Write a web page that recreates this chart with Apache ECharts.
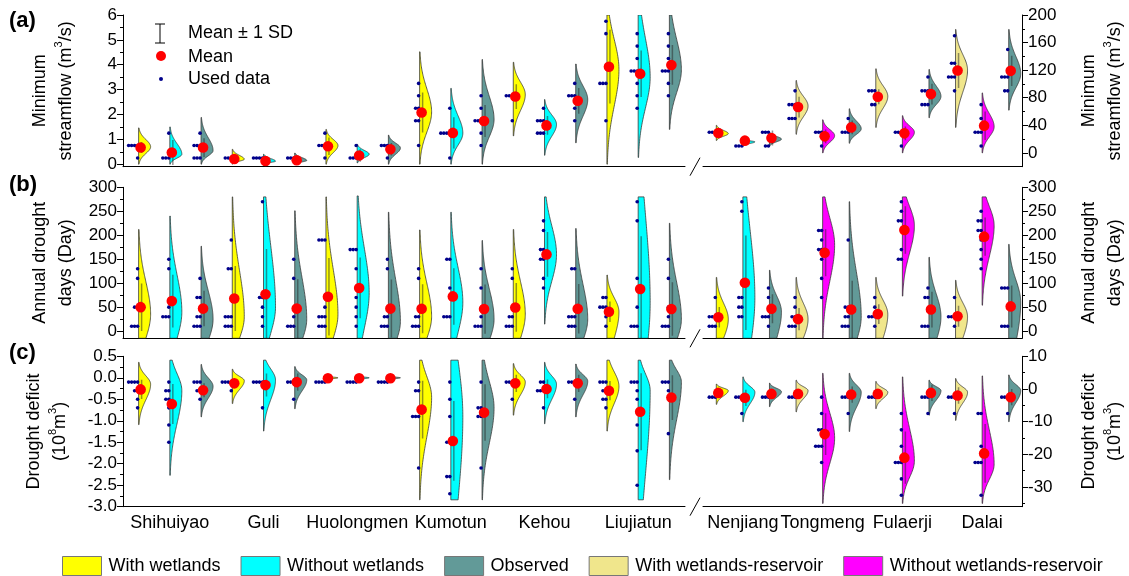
<!DOCTYPE html>
<html>
<head>
<meta charset="utf-8">
<title>Violin plots - streamflow, drought days, drought deficit</title>
<script src="https://cdn.jsdelivr.net/npm/echarts@6/dist/echarts.min.js"></script>
<style>
  html, body { margin: 0; padding: 0; background: #fff; }
  #main { width: 1129px; height: 576px; }
</style>
</head>
<body>
<div id="main"></div>
<script>
var FONT = 'Liberation Sans, Arial, sans-serif';

var stationsL = ['Shihuiyao', 'Guli', 'Huolongmen', 'Kumotun', 'Kehou', 'Liujiatun'];
var stationsR = ['Nenjiang', 'Tongmeng', 'Fulaerji', 'Dalai'];
var seriesNames = ['With wetlands', 'Without wetlands', 'Observed', 'With wetlands-reservoir', 'Without wetlands-reservoir'];
var seriesColors = ['#ffff00', '#00ffff', '#629a98', '#f0e68c', '#ff00ff'];
// which series each violin belongs to
var kindL = [0,1,2, 0,1,2, 0,1,2, 0,1,2, 0,1,2, 0,1,2];
var kindR = [0,1,2, 3,4,2, 3,4,2, 3,4,2];

// violin shape: [low end, peak, high end, tail low, tail high]
// (a) minimum streamflow
var aMeanL = [0.67,0.47,0.67, 0.21,0.13,0.16, 0.72,0.35,0.6, 2.08,1.26,1.74, 2.72,1.56,2.55, 3.92,3.64,3.99];
var aPtsL = [
  [0.75,0.75,0.75,0.75,0.25], [1.25,0.25,0.25,0.25], [1.25,0.75,0.75,0.75,0.25,0.25,0.25],
  [0.25,0.25,0.25], [0.25,0.25,0.25,0.25], [0.25,0.25,0.25],
  [1.25,0.75,0.75,0.75,0.25], [0.75,0.25,0.25,0.25], [0.75,0.75,0.75,0.25],
  [3.25,2.75,2.25,2.25,1.75,1.75,0.75], [2.25,1.25,1.25,1.25,1.25,0.25], [2.75,2.25,1.75,1.75,1.75,1.25,0.75],
  [2.75,2.75,2.75,1.75], [2.25,1.75,1.75,1.75,1.25,1.25,1.25], [3.25,2.75,2.75,2.75,2.25,1.75],
  [5.75,5.25,3.25,3.25,3.25,1.75], [5.25,4.75,4.25,3.75,3.75,3.75,3.25,2.75,2.25], [5.25,4.75,4.25,3.75,3.75,3.75,3.25,2.75]
];
var aShapeL = [
  [0,0.7,1.46], [0,0.4,1.5], [0,0.55,1.88],
  [0,0.2,0.6], [0,0.12,0.4], [0,0.15,0.45],
  [0,0.75,1.4], [0.05,0.4,0.8], [0,0.65,1.17],
  [0,2.1,4.52], [0,1.25,3.05], [0,1.8,4.21],
  [1.14,2.8,4.1], [0.36,1.6,2.6], [0.86,2.6,4.03],
  [0,3.8,6,2.6,1.8], [0.27,3.5,6,2.6,1.6], [1.4,3.8,6,2.6,1.8]
];
var aMeanR = [28.9,17.8,21.7, 66.5,24,37, 81.4,28.4,85.3, 119.5,39.5,119];
var aPtsR = [
  [30,30,30], [10,10,10], [30,30,30,10,10],
  [90,70,70,70,50,50,50], [30,30,30,10], [50,30,30,30],
  [90,90,90,70,70], [30,30,30,10], [110,90,90,90,70,70,70],
  [170,130,130,110,110,110,90], [70,50,30,30,30,10], [150,110,110,110,90,90]
];
var aShapeR = [
  [18,28,40], [10,16,20], [10,20,30],
  [27,68,105], [0,25,48], [14,35,64],
  [37,82,122], [0,30,54], [51,82,121],
  [37,120,179], [0,38,87], [62,115,179]
];

// (b) annual drought days
var bMeanL = [50,62.6,47, 68,77,47, 71.7,90,47, 46.6,72.4,46, 49.4,160,46.6, 40.4,87.7,46];
var bPtsL = [
  [130,110,50,50,10,10,10], [150,130,50,30,30,30], [110,70,70,30,30,10,10,10],
  [190,130,130,30,30,30,10,10,10], [270,70,70,50,30,10], [150,110,30,10,10,10],
  [190,190,190,50,30,30,30,10,10,10], [170,170,170,130,90,70,50,30,10], [150,130,30,30,10,10,10],
  [130,110,30,30,10,10,10], [150,150,90,30,30,30], [130,90,30,10,10,10],
  [130,110,30,30,10,10,10], [230,210,170,170,150,150,110,90], [130,130,30,30,30,10,10,10],
  [70,70,50,50,50,30,10], [270,230,110,50,10,10,10], [150,110,50,30,10,10,10]
];
var bShapeL = [
  [-15,35,212,1.0,2.6], [-15,40,240,1.0,2.6], [-15,25,177,0.9,2.6],
  [-15,30,280,1.0,2.6], [-15,50,280,1.2,1.8], [-15,25,251,0.9,2.6],
  [-15,35,280,1.0,2.6], [-15,80,282,1.3,2.2], [-15,20,248,0.8,2.6],
  [-15,30,211,1.0,2.6], [-15,60,248,1.2,2.6], [-15,25,189,0.9,2.6],
  [-15,35,212,1.0,2.6], [14.6,160,280,2.6,2.0], [-15,25,214,0.9,2.6],
  [-15,40,117,1.0,2.6], [-15,60,280,0.6,1.2], [-15,25,225,0.9,2.6]
];
var bMeanR = [29,101,46.6, 25,163.6,45, 35.5,211,45, 31,197,51.5];
var bPtsR = [
  [70,30,30,30,10,10,10], [270,250,70,70,50,50,30,30], [90,70,30,30,30,10],
  [70,50,30,30,10,10,10], [210,210,190,170,170,150,110,70], [190,50,50,30,30,10,10,10],
  [70,50,30,30,30,10], [270,250,230,230,170,150,150], [90,70,70,10,10,10],
  [70,30,30,30,10], [250,230,230,210,210,190,170,150,130], [90,90,90,10,10,10]
];
var bShapeR = [
  [-15,25,112,1.0,2.6], [-15,70,280,0.8,1.5], [-15,40,127,1.0,2.6],
  [-15,25,112,1.0,2.6], [-15,180,280,2.6,1.8], [-15,30,270,0.9,2.6],
  [-15,35,112,1.0,2.6], [73,220,280,2.6,1.5], [-15,30,154,0.9,2.6],
  [-15,30,106,1.0,2.6], [54,220,280,2.6,1.5], [-15,60,181,0.9,2.6]
];

// (c) drought deficit
var cMeanL = [-0.27,-0.61,-0.29, -0.13,-0.17,-0.1, -0.01,-0.01,-0.01, -0.74,-1.47,-0.81, -0.13,-0.26,-0.13, -0.3,-0.79,-0.46];
var cPtsL = [
  [-0.1,-0.1,-0.1,-0.1,-0.3,-0.3,-0.5,-0.7], [-0.1,-0.3,-0.3,-0.5,-0.5,-0.7,-1.1,-1.5], [-0.1,-0.1,-0.1,-0.3,-0.3,-0.5],
  [-0.1,-0.1,-0.1,-0.1,-0.3], [-0.1,-0.1,-0.1,-0.1,-0.7], [-0.1,-0.1,-0.1,-0.5],
  [-0.1,-0.1,-0.1,-0.1], [-0.1,-0.1,-0.1,-0.1], [-0.1,-0.1,-0.1,-0.1],
  [-0.1,-0.3,-0.3,-0.9,-0.9,-0.9,-2.1], [-0.1,-0.5,-0.9,-1.5,-1.5,-2.3,-2.3,-2.7], [-0.1,-0.7,-0.7,-0.9,-0.9,-2.1],
  [-0.1,-0.1,-0.1,-0.5], [-0.1,-0.1,-0.3,-0.3,-0.3,-0.7], [-0.1,-0.1,-0.1,-0.5],
  [-0.1,-0.1,-0.1,-0.3,-0.3,-0.5,-0.5,-0.7], [-0.1,-0.1,-0.1,-0.3,-0.5,-1.1,-1.7,-2.5], [-0.1,-0.1,-0.1,-0.3,-1.3]
];
var cShapeL = [
  [-1.09,-0.15,0.36], [-2.27,-0.3,0.41,2.6,1.8], [-0.91,-0.2,0.31],
  [-0.6,-0.07,0.2], [-1.24,-0.05,0.41,2.6,1.8], [-0.72,-0.05,0.26],
  [-0.05,0,0.04], [-0.05,0,0.04], [-0.05,0,0.04],
  [-2.84,-0.45,0.41,2.6,1.8], [-2.84,-0.9,0.41,1.0,1.0], [-2.84,-0.7,0.41,2.6,1.8],
  [-0.87,-0.1,0.33], [-1.07,-0.15,0.36], [-0.91,-0.08,0.32],
  [-1.24,-0.2,0.41,2.6,1.8], [-2.84,-0.3,0.41,1.3,1.8], [-2.37,-0.1,0.41,2.6,1.8]
];
var cMeanR = [-1.2,-2.7,-1.5, -1.5,-13.8,-1.7, -1.5,-21,-1.2, -2,-19.7,-2.5];
var cPtsR = [
  [-2.5,-2.5,-2.5], [-2.5,-2.5,-2.5,-7.5], [-2.5,-2.5,-2.5],
  [-2.5,-2.5,-2.5], [-2.5,-7.5,-12.5,-12.5,-17.5,-17.5,-17.5,-22.5], [-2.5,-2.5,-2.5,-7.5],
  [-2.5,-2.5,-2.5], [-7.5,-12.5,-17.5,-22.5,-22.5,-22.5,-27.5,-32.5], [-2.5,-2.5,-2.5,-7.5],
  [-2.5,-2.5,-2.5,-7.5], [-7.5,-7.5,-17.5,-22.5,-22.5,-22.5,-32.5], [-2.5,-2.5,-2.5,-7.5]
];
var cShapeR = [
  [-4.7,-0.5,1.5], [-10,-1,3.7], [-5.4,-0.8,1.8],
  [-7,-0.5,2.7], [-35,-15,4.8], [-13,-1,4.8],
  [-6,-1,2.3], [-35,-22,3.7], [-8,-0.5,2.7],
  [-9.6,-1,3.2], [-35,-23,4], [-10,-0.5,4.3]
];

// tick values
var ticksAL = [0,1,2,3,4,5,6], minorAL = [0.5,1.5,2.5,3.5,4.5,5.5];
var ticksAR = [0,40,80,120,160,200], minorAR = [20,60,100,140,180];
var ticksB = [0,50,100,150,200,250,300], minorB = [25,75,125,175,225,275];
var ticksCL = [0.5,0,-0.5,-1,-1.5,-2,-2.5,-3], minorCL = [0.25,-0.25,-0.75,-1.25,-1.75,-2.25,-2.75];
var ticksCR = [10,0,-10,-20,-30], minorCR = [5,-5,-15,-25,-35];

var nameA = 'Minimum\nstreamflow (m{sup|3}/s)';
var nameB = 'Annual drought\ndays (Day)';
var nameC = 'Drought deficit\n(10{sup|8}m{sup|3})';

var rows = [
  { top: 15, height: 151.7 },
  { top: 187.3, height: 151 },
  { top: 356.3, height: 150.4 }
];
var HALF = 12;

var panels = [
  { row: 0, side: 'L', means: aMeanL, pts: aPtsL, shape: aShapeL, kind: kindL, min: -0.1, max: 6, ticks: ticksAL, minor: minorAL, fmt: 0, name: nameA, gap: 44 },
  { row: 0, side: 'R', means: aMeanR, pts: aPtsR, shape: aShapeR, kind: kindR, min: -20, max: 200, ticks: ticksAR, minor: minorAR, fmt: 0, name: nameA, gap: 54 },
  { row: 1, side: 'L', means: bMeanL, pts: bPtsL, shape: bShapeL, kind: kindL, min: -15, max: 300, ticks: ticksB, minor: minorB, fmt: 0, name: nameB, gap: 44 },
  { row: 1, side: 'R', means: bMeanR, pts: bPtsR, shape: bShapeR, kind: kindR, min: -15, max: 300, ticks: ticksB, minor: minorB, fmt: 0, name: nameB, gap: 54 },
  { row: 2, side: 'L', means: cMeanL, pts: cPtsL, shape: cShapeL, kind: kindL, min: -3, max: 0.5, ticks: ticksCL, minor: minorCL, fmt: 1, name: nameC, gap: 50 },
  { row: 2, side: 'R', means: cMeanR, pts: cPtsR, shape: cShapeR, kind: kindR, min: -36, max: 10, ticks: ticksCR, minor: minorCR, fmt: 0, name: nameC, gap: 54 }
];

function sampleSd(arr) {
  if (arr.length < 2) return 0;
  var m = 0;
  arr.forEach(function (v) { m += v; });
  m /= arr.length;
  var s = 0;
  arr.forEach(function (v) { s += (v - m) * (v - m); });
  return Math.sqrt(s / (arr.length - 1));
}

function makeRender(p) {
  return function (params, api) {
    var i = api.value(0);
    var sh = p.shape[i];
    var lo = sh[0], mode = sh[1], hi = sh[2];
    var sLo = Math.max((mode - lo) / (sh[3] || 2.6), 1e-9);
    var sHi = Math.max((hi - mode) / (sh[4] || 2.6), 1e-9);
    var cx = api.coord([i, mode])[0];
    var poly = [[cx, api.coord([i, lo])[1]]];
    var n = 90;
    for (var s = 0; s <= n; s++) {
      var v = lo + (hi - lo) * s / n;
      var d = v < mode ? (v - mode) / sLo : (v - mode) / sHi;
      poly.push([cx + HALF * Math.exp(-0.5 * d * d), api.coord([i, v])[1]]);
    }
    poly.push([cx, api.coord([i, hi])[1]]);

    var children = [{
      type: 'polygon',
      shape: { points: poly },
      style: { fill: api.visual('color'), stroke: '#3a3a3a', lineWidth: 0.8 }
    }];

    // mean +- 1 SD
    var m = p.means[i];
    var sd = sampleSd(p.pts[i]);
    if (sd > 0) {
      children.push({
        type: 'line',
        shape: { x1: cx + 3, y1: api.coord([i, m + sd])[1], x2: cx + 3, y2: api.coord([i, m - sd])[1] },
        style: { stroke: 'rgba(40,40,40,0.5)', lineWidth: 1.5 }
      });
    }

    // used data, repeated values stacked to the left
    var seen = {};
    p.pts[i].forEach(function (v) {
      var key = String(v);
      var k = seen[key] || 0;
      seen[key] = k + 1;
      children.push({
        type: 'circle',
        shape: { cx: cx - 1 - 3 * k, cy: api.coord([i, v])[1], r: 1.8 },
        style: { fill: '#00008b' }
      });
    });

    children.push({
      type: 'circle',
      shape: { cx: cx + 2, cy: api.coord([i, m])[1], r: 5.3 },
      style: { fill: '#ff0000' }
    });
    return { type: 'group', children: children };
  };
}

var grids = [], xAxes = [], yAxes = [], series = [];
panels.forEach(function (p, k) {
  var left = p.side === 'L';
  var stations = left ? stationsL : stationsR;
  var r = rows[p.row];
  grids.push({
    left: left ? 123 : 703,
    width: left ? 562 : 321,
    top: r.top,
    height: r.height
  });
  var cats = p.kind.map(function (_, i) { return String(i); });
  xAxes.push({
    type: 'category',
    gridIndex: k,
    data: cats,
    boundaryGap: true,
    axisLine: { onZero: false, lineStyle: { color: '#000', width: 1 } },
    axisTick: { alignWithLabel: true, interval: 0, length: 5, lineStyle: { color: '#000' } },
    axisLabel: {
      show: p.row === 2,
      interval: 0,
      margin: 7,
      color: '#000',
      fontFamily: FONT,
      fontSize: 18,
      formatter: function (v, idx) { return idx % 3 === 1 ? stations[(idx - 1) / 3] : ''; }
    },
    splitLine: { show: false }
  });
  var fmt = p.fmt;
  yAxes.push({
    type: 'value',
    gridIndex: k,
    position: left ? 'left' : 'right',
    min: p.min,
    max: p.max,
    axisLine: { show: true, onZero: false, lineStyle: { color: '#000', width: 1 } },
    axisTick: { show: true, customValues: p.ticks, length: 6, lineStyle: { color: '#000' } },
    axisLabel: {
      customValues: p.ticks,
      color: '#000',
      fontFamily: FONT,
      fontSize: 17,
      margin: 6,
      formatter: function (v) { return fmt ? v.toFixed(1) : String(v); }
    },
    splitLine: { show: false },
    name: p.name,
    nameLocation: 'middle',
    nameRotate: 90,
    nameGap: p.gap,
    nameTextStyle: {
      color: '#000',
      fontFamily: FONT,
      fontSize: 18,
      lineHeight: 26,
      rich: { sup: { fontSize: 11, fontFamily: FONT, color: '#000', verticalAlign: 'top', lineHeight: 12 } }
    }
  });
  yAxes.push({
    type: 'value',
    gridIndex: k,
    position: left ? 'left' : 'right',
    min: p.min,
    max: p.max,
    axisLine: { show: false },
    axisTick: { show: true, customValues: p.minor, length: 3, lineStyle: { color: '#000' } },
    axisLabel: { show: false },
    splitLine: { show: false }
  });
  [0, 1, 2, 3, 4].forEach(function (g) {
    var data = [];
    p.kind.forEach(function (kd, i) { if (kd === g) data.push([i, p.means[i]]); });
    if (!data.length) return;
    series.push({
      type: 'custom',
      name: seriesNames[g],
      xAxisIndex: k,
      yAxisIndex: 2 * k,
      clip: true,
      itemStyle: { color: seriesColors[g], borderColor: '#777', borderWidth: 1 },
      encode: { x: 0, y: 1 },
      data: data,
      renderItem: makeRender(p)
    });
  });
});

// panel letters, axis breaks, in-plot key
var graphics = [];
[['(a)', 22], ['(b)', 186], ['(c)', 354]].forEach(function (t) {
  graphics.push({
    type: 'text', left: 9, top: t[1] - 12,
    style: { text: t[0], font: 'bold 22px ' + FONT, fill: '#000' }
  });
});
rows.forEach(function (r) {
  var b = r.top + r.height;
  graphics.push({
    type: 'line',
    shape: { x1: 690, y1: b + 9, x2: 700, y2: b - 9 },
    style: { stroke: '#000', lineWidth: 1 }
  });
});
graphics.push(
  { type: 'line', shape: { x1: 160, y1: 24, x2: 160, y2: 43 }, style: { stroke: '#000', lineWidth: 1 } },
  { type: 'line', shape: { x1: 155, y1: 24, x2: 165, y2: 24 }, style: { stroke: '#000', lineWidth: 1 } },
  { type: 'line', shape: { x1: 155, y1: 43, x2: 165, y2: 43 }, style: { stroke: '#000', lineWidth: 1 } },
  { type: 'text', x: 188, y: 33, style: { text: 'Mean \u00b1 1 SD', font: '18px ' + FONT, fill: '#000', textVerticalAlign: 'middle' } },
  { type: 'circle', shape: { cx: 161, cy: 56, r: 5 }, style: { fill: '#ff0000' } },
  { type: 'text', x: 188, y: 57, style: { text: 'Mean', font: '18px ' + FONT, fill: '#000', textVerticalAlign: 'middle' } },
  { type: 'circle', shape: { cx: 161, cy: 79, r: 2 }, style: { fill: '#00008b' } },
  { type: 'text', x: 188, y: 79, style: { text: 'Used data', font: '18px ' + FONT, fill: '#000', textVerticalAlign: 'middle' } }
);

var chart = echarts.init(document.getElementById('main'), null, { renderer: 'canvas' });
chart.setOption({
  animation: false,
  backgroundColor: '#fff',
  grid: grids,
  xAxis: xAxes,
  yAxis: yAxes,
  legend: {
    data: seriesNames.map(function (n, i) {
      return { name: n, icon: 'rect', itemStyle: { color: seriesColors[i], borderColor: '#777', borderWidth: 1 } };
    }),
    left: 57,
    top: 551,
    itemWidth: 39,
    itemHeight: 19,
    itemGap: 20,
    selectedMode: false,
    textStyle: { color: '#000', fontFamily: FONT, fontSize: 18, padding: [0, 0, 0, 2] }
  },
  graphic: graphics,
  series: series
});
</script>
</body>
</html>
